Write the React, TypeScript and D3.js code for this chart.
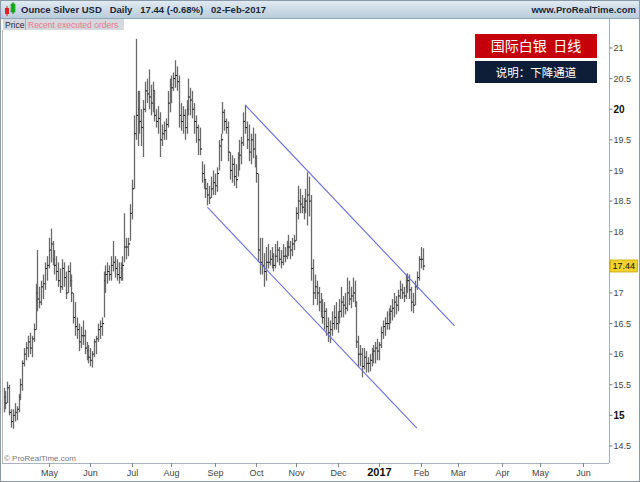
import React, { useEffect, useRef } from 'react';
import * as d3 from 'd3';

// Daily bars, one per weekday, starting 29-Mar-2016 and ending 02-Feb-2017
const firstDay = '2016-03-29';
const lastAxisDay = '2017-06-30';

const highs = [
  15.45, 15.4, 15.55, 15.5, 15.1, 15.1, 15.2, 15.15, 15.35, 15.6, 15.9, 16.1, 16.2, 16.3, 16.35, 16.3, 16.5, 17.15, 17.7, 17.1,
  17.2, 17.3, 17.5, 17.6, 17.9, 18.05, 17.85, 17.7, 17.6, 17.5, 17.4, 17.55, 17.5, 17.35, 17.45, 17.5, 17.3, 17.0, 16.85, 16.6,
  16.5, 16.45, 16.55, 16.4, 16.2, 16.15, 16.1, 16.05, 16.25, 16.3, 16.5, 16.55, 16.6, 17.35, 17.45, 17.5, 17.45, 17.6, 17.85, 17.6,
  17.55, 17.5, 17.5, 17.6, 18.3, 17.9, 17.9, 18.45, 18.85, 19.9, 21.15, 20.3, 20.3, 20.0, 20.15, 20.45, 20.5, 20.65, 20.4, 20.45,
  20.3, 20.0, 20.05, 19.95, 19.75, 19.8, 19.85, 20.3, 20.5, 20.55, 20.6, 20.8, 20.7, 20.55, 20.1, 20.05, 20.0, 20.15, 20.5, 20.35,
  20.3, 20.1, 19.9, 19.75, 19.7, 19.15, 19.1, 18.85, 18.8, 18.75, 18.9, 19.0, 18.95, 19.05, 19.5, 19.6, 20.12, 20.0, 19.85, 19.8,
  19.3, 19.25, 19.2, 19.1, 19.3, 19.5, 19.55, 19.95, 20.07, 19.8, 19.75, 19.6, 19.7, 19.6, 19.25, 18.95, 17.9, 17.9, 17.65, 17.75,
  17.8, 17.7, 17.75, 17.65, 17.8, 17.85, 17.75, 17.7, 17.8, 17.75, 17.85, 17.95, 17.85, 17.9, 17.95, 18.4, 18.75, 18.7, 18.6, 18.55,
  18.7, 18.97, 18.9, 18.6, 17.55, 17.3, 17.2, 17.1, 17.0, 16.9, 16.85, 16.75, 16.6, 16.55, 16.7, 16.8, 16.85, 16.7, 16.9, 17.1,
  16.95, 17.0, 17.25, 17.2, 17.1, 17.25, 17.2, 16.85, 16.3, 16.15, 16.1, 16.1, 16.05, 15.95, 16.0, 16.1, 16.15, 16.2, 16.25, 16.2,
  16.45, 16.55, 16.6, 16.7, 16.75, 16.8, 16.9, 17.0, 16.95, 17.05, 17.2, 17.15, 17.1, 17.3, 17.32, 17.3, 17.1, 17.0, 17.2, 17.35,
  17.6, 17.75, 17.73
];

const lows = [
  15.05, 15.1, 15.2, 15.0, 14.8, 14.78, 14.9, 14.92, 15.05, 15.25, 15.4, 15.8, 15.9, 15.95, 16.0, 15.95, 16.2, 16.4, 16.7, 16.75,
  16.8, 16.9, 17.05, 17.2, 17.4, 17.5, 17.45, 17.3, 17.2, 17.1, 17.0, 17.05, 17.1, 16.9, 17.0, 17.1, 16.85, 16.5, 16.3, 16.25,
  16.05, 16.1, 16.15, 16.0, 15.9, 15.85, 15.8, 15.78, 15.95, 16.0, 16.2, 16.25, 16.3, 16.6, 17.0, 17.15, 17.2, 17.2, 17.35, 17.25,
  17.2, 17.15, 17.2, 17.2, 17.5, 17.55, 17.6, 17.85, 18.2, 18.7, 19.5, 19.4, 19.6, 19.4, 19.22, 19.95, 20.1, 20.0, 19.9, 19.95,
  19.8, 19.7, 19.6, 19.22, 19.4, 19.5, 19.5, 19.7, 19.95, 20.1, 20.3, 20.35, 20.3, 19.7, 19.65, 19.6, 19.5, 19.6, 19.9, 19.9,
  19.85, 19.6, 19.45, 19.25, 19.25, 18.8, 18.7, 18.55, 18.43, 18.45, 18.55, 18.6, 18.6, 18.65, 19.0, 19.15, 19.6, 19.65, 19.6, 19.15,
  18.85, 18.8, 18.75, 18.71, 18.9, 19.0, 19.1, 19.4, 19.6, 19.35, 19.15, 19.1, 19.2, 19.05, 18.8, 17.5, 17.3, 17.3, 17.1, 17.2,
  17.4, 17.45, 17.4, 17.35, 17.4, 17.5, 17.45, 17.4, 17.45, 17.5, 17.55, 17.6, 17.55, 17.6, 17.7, 17.85, 18.2, 18.3, 18.3, 18.2,
  18.3, 18.1, 18.25, 17.2, 16.8, 16.9, 16.8, 16.7, 16.6, 16.5, 16.4, 16.3, 16.2, 16.18, 16.3, 16.4, 16.4, 16.35, 16.5, 16.6,
  16.6, 16.65, 16.7, 16.8, 16.75, 16.85, 16.77, 16.1, 15.8, 15.8, 15.62, 15.75, 15.7, 15.7, 15.72, 15.8, 15.85, 15.85, 15.9, 15.9,
  16.1, 16.25, 16.3, 16.4, 16.4, 16.5, 16.55, 16.6, 16.65, 16.7, 16.9, 16.9, 16.85, 16.9, 17.0, 16.9, 16.7, 16.67, 16.8, 17.05,
  17.2, 17.4, 17.37
];

const closes = [
  15.3, 15.2, 15.45, 15.05, 14.9, 15.0, 15.05, 15.1, 15.3, 15.5, 15.85, 16.0, 16.1, 16.2, 16.1, 16.25, 16.4, 17.0, 16.9, 16.85,
  17.1, 17.15, 17.4, 17.45, 17.7, 17.8, 17.55, 17.45, 17.35, 17.2, 17.1, 17.4, 17.25, 17.0, 17.35, 17.2, 17.0, 16.6, 16.45, 16.4,
  16.2, 16.3, 16.3, 16.1, 16.05, 15.95, 15.9, 16.0, 16.2, 16.25, 16.4, 16.45, 16.5, 17.2, 17.3, 17.35, 17.3, 17.45, 17.5, 17.4,
  17.3, 17.25, 17.4, 17.45, 17.75, 17.75, 17.8, 18.3, 18.7, 19.6, 19.9, 20.0, 19.8, 19.7, 20.0, 20.3, 20.25, 20.2, 20.1, 20.3,
  19.9, 19.8, 19.85, 19.5, 19.6, 19.65, 19.75, 20.1, 20.4, 20.35, 20.5, 20.55, 20.45, 19.9, 19.8, 19.9, 19.7, 20.0, 20.2, 20.15,
  20.0, 19.8, 19.7, 19.5, 19.35, 18.95, 18.85, 18.7, 18.6, 18.55, 18.7, 18.8, 18.75, 18.95, 19.4, 19.5, 19.95, 19.8, 19.7, 19.3,
  19.0, 19.1, 18.9, 18.85, 19.2, 19.25, 19.45, 19.8, 19.7, 19.5, 19.3, 19.5, 19.35, 19.2, 18.95, 17.7, 17.5, 17.45, 17.35, 17.5,
  17.5, 17.55, 17.6, 17.45, 17.6, 17.7, 17.55, 17.5, 17.6, 17.6, 17.75, 17.75, 17.7, 17.8, 17.85, 18.3, 18.5, 18.45, 18.4, 18.35,
  18.5, 18.6, 18.5, 17.4, 17.0, 17.1, 17.0, 16.85, 16.7, 16.6, 16.7, 16.45, 16.35, 16.4, 16.5, 16.6, 16.5, 16.6, 16.7, 16.85,
  16.8, 16.75, 17.0, 16.9, 16.95, 17.0, 16.85, 16.2, 16.0, 16.0, 15.8, 15.95, 15.85, 15.85, 15.9, 16.0, 16.05, 16.1, 16.05, 16.15,
  16.35, 16.45, 16.5, 16.5, 16.65, 16.7, 16.75, 16.85, 16.8, 16.95, 17.05, 17.0, 16.95, 17.1, 17.2, 17.05, 16.85, 16.8, 17.1, 17.25,
  17.55, 17.55, 17.44
];

const priceTicks = [14.5, 15, 15.5, 16, 16.5, 17, 17.5, 18, 18.5, 19, 19.5, 20, 20.5, 21];
const boldPriceTicks = [15, 20];
const monthStarts = ['2016-05', '2016-06', '2016-07', '2016-08', '2016-09', '2016-10', '2016-11', '2016-12',
  '2017-01', '2017-02', '2017-03', '2017-04', '2017-05', '2017-06'];
const monthLabels = ['May', 'Jun', 'Jul', 'Aug', 'Sep', 'Oct', 'Nov', 'Dec', '2017', 'Feb', 'Mar', 'Apr', 'May', 'Jun'];

// trend channel, drawn by hand on the chart
const upperChannel: [string, number][] = [['2016-09-23', 20.07], ['2017-02-27', 16.46]];
const lowerChannel: [string, number][] = [['2016-08-26', 18.40], ['2017-01-30', 14.79]];

const lastPrice = 17.44;
const headerText = 'Ounce Silver USD   Daily   17.44 (-0.68%)   02-Feb-2017';
const titleText = '国际白银  日线';
const noteText = '说明：下降通道';

const W = 640;
const H = 482;

export default function App() {
  const svgRef = useRef<SVGSVGElement>(null);

  useEffect(() => {
    const svg = d3.select(svgRef.current);
    svg.selectAll('*').remove();

    // weekday calendar for the x axis
    const days: string[] = [];
    const end = new Date(lastAxisDay + 'T00:00:00Z');
    for (let d = new Date(firstDay + 'T00:00:00Z'); d <= end; d.setUTCDate(d.getUTCDate() + 1)) {
      const wd = d.getUTCDay();
      if (wd !== 0 && wd !== 6) days.push(d.toISOString().slice(0, 10));
    }
    const dayIndex = (s: string) => days.indexOf(s);

    const plot = { left: 2, right: 609, top: 19, bottom: 463 };

    const x = d3.scaleLinear().domain([0, closes.length - 1]).range([3.5, 422.5]);
    const y = d3.scaleLinear().domain([14.5, 21]).range([446, 48]);

    const font = 'Arial, "Liberation Sans", sans-serif';

    svg.append('rect').attr('width', W).attr('height', H).attr('fill', '#fff');

    // header band
    const defs = svg.append('defs');
    const grad = defs.append('linearGradient').attr('id', 'hdr').attr('x1', 0).attr('y1', 0).attr('x2', 0).attr('y2', 1);
    grad.append('stop').attr('offset', '0%').attr('stop-color', '#e3ecf3');
    grad.append('stop').attr('offset', '100%').attr('stop-color', '#b9ccdb');
    svg.append('rect').attr('x', 0).attr('y', 0).attr('width', W).attr('height', 18).attr('fill', 'url(#hdr)');
    svg.append('line').attr('x1', 0).attr('x2', W).attr('y1', 18.5).attr('y2', 18.5).attr('stroke', '#8fa6b8');

    // small candle icon
    svg.append('rect').attr('x', 5).attr('y', 8).attr('width', 4).attr('height', 6).attr('fill', '#e02020');
    svg.append('line').attr('x1', 7).attr('x2', 7).attr('y1', 6).attr('y2', 16).attr('stroke', '#e02020');
    svg.append('rect').attr('x', 11).attr('y', 4).attr('width', 4).attr('height', 8).attr('fill', '#22c022').attr('stroke', '#118811').attr('stroke-width', 0.6);
    svg.append('line').attr('x1', 13).attr('x2', 13).attr('y1', 2).attr('y2', 14).attr('stroke', '#118811');

    svg.append('text').attr('x', 21).attr('y', 13).attr('font-family', font).attr('font-size', 9.5)
      .attr('font-weight', 'bold').attr('fill', '#1b2838')
      .style('white-space', 'pre').text(headerText);
    svg.append('text').attr('x', 636).attr('y', 13).attr('text-anchor', 'end').attr('font-family', font)
      .attr('font-size', 9.5).attr('font-weight', 'bold').attr('fill', '#1b2838').text('www.ProRealTime.com');

    // tabs
    svg.append('rect').attr('x', 3).attr('y', 19).attr('width', 121).attr('height', 11).attr('fill', '#d5d9dd');
    svg.append('text').attr('x', 5).attr('y', 27.5).attr('font-family', font).attr('font-size', 8.5)
      .attr('fill', '#1b2838').text('Price');
    svg.append('line').attr('x1', 25.5).attr('x2', 25.5).attr('y1', 19).attr('y2', 30).attr('stroke', '#aab');
    svg.append('text').attr('x', 28).attr('y', 27.5).attr('font-family', font).attr('font-size', 8.5)
      .attr('fill', '#e8788a').text('Recent executed orders');

    // frame lines
    svg.append('line').attr('x1', plot.left + 0.5).attr('x2', plot.left + 0.5)
      .attr('y1', 30).attr('y2', plot.bottom).attr('stroke', '#b8b8b8');
    svg.append('line').attr('x1', plot.left).attr('x2', plot.right)
      .attr('y1', plot.bottom + 0.5).attr('y2', plot.bottom + 0.5).attr('stroke', '#a8b4bf');
    svg.append('line').attr('x1', plot.right + 0.5).attr('x2', plot.right + 0.5)
      .attr('y1', 19).attr('y2', plot.bottom).attr('stroke', '#9fb3c3');
    svg.append('rect').attr('x', 0.5).attr('y', 0.5).attr('width', W - 1).attr('height', H - 1)
      .attr('fill', 'none').attr('stroke', '#8a9aa8');

    // bars
    const g = svg.append('g');
    closes.forEach((c, i) => {
      const px = Math.round(x(i)) + 0.5;
      g.append('line').attr('x1', px).attr('x2', px)
        .attr('y1', y(highs[i])).attr('y2', y(lows[i]))
        .attr('stroke', '#6a6a6a').attr('stroke-width', 1.3);
      g.append('line').attr('x1', px).attr('x2', px + 1.6)
        .attr('y1', y(c)).attr('y2', y(c))
        .attr('stroke', '#000').attr('stroke-width', 1);
    });

    // channel
    const chLine = d3.line<[string, number]>()
      .x(d => x(dayIndex(d[0])))
      .y(d => y(d[1]));
    [upperChannel, lowerChannel].forEach(ch => {
      svg.append('path').attr('d', chLine(ch)).attr('fill', 'none')
        .attr('stroke', '#6d6dd8').attr('stroke-width', 1.1);
    });

    // price axis
    const yAxis = svg.append('g').attr('transform', `translate(${plot.right + 0.5},0)`);
    priceTicks.forEach(t => {
      yAxis.append('line').attr('x1', 0).attr('x2', 3).attr('y1', y(t)).attr('y2', y(t)).attr('stroke', '#777');
      // the label under the last-price box is hidden
      if (Math.abs(y(t) - y(lastPrice)) < 10) return;
      const bold = boldPriceTicks.includes(t);
      yAxis.append('text').attr('x', 4).attr('y', y(t)).attr('dy', '0.35em')
        .attr('font-family', font).attr('font-size', bold ? 10 : 9)
        .attr('font-weight', bold ? 'bold' : 'normal').attr('fill', bold ? '#111' : '#444')
        .text(String(t));
    });
    yAxis.append('rect').attr('x', 1).attr('y', y(lastPrice) - 6).attr('width', 27).attr('height', 12)
      .attr('fill', '#f2d230').attr('stroke', '#c9a800').attr('stroke-width', 0.8);
    yAxis.append('text').attr('x', 3).attr('y', y(lastPrice)).attr('dy', '0.35em')
      .attr('font-family', font).attr('font-size', 9).attr('fill', '#111').text(lastPrice.toFixed(2));

    // time axis
    const xAxis = svg.append('g');
    monthStarts.forEach((m, k) => {
      const idx = days.findIndex(d => d.startsWith(m));
      const px = Math.round(x(idx)) + 0.5;
      xAxis.append('line').attr('x1', px).attr('x2', px).attr('y1', plot.bottom).attr('y2', plot.bottom + 4)
        .attr('stroke', '#888');
      const isYear = monthLabels[k] === '2017';
      xAxis.append('text').attr('x', px).attr('y', 476).attr('text-anchor', 'middle')
        .attr('font-family', font).attr('font-size', isYear ? 11 : 9)
        .attr('font-weight', isYear ? 'bold' : 'normal').attr('fill', isYear ? '#111' : '#444')
        .text(monthLabels[k]);
    });

    // watermark
    svg.append('text').attr('x', 4).attr('y', 461).attr('font-family', font).attr('font-size', 8)
      .attr('fill', '#777').text('© ProRealTime.com');

    // annotation boxes
    const cjk = '"Noto Sans CJK SC", sans-serif';
    svg.append('rect').attr('x', 475).attr('y', 34).attr('width', 122).attr('height', 24).attr('fill', '#c6000b');
    svg.append('text').attr('x', 536).attr('y', 51).attr('text-anchor', 'middle').attr('font-family', cjk)
      .attr('font-size', 14).attr('fill', '#fff').style('white-space', 'pre').text(titleText);
    svg.append('rect').attr('x', 475).attr('y', 61).attr('width', 122).attr('height', 22).attr('fill', '#0e1e38');
    svg.append('text').attr('x', 536).attr('y', 76.5).attr('text-anchor', 'middle').attr('font-family', cjk)
      .attr('font-size', 11.5).attr('fill', '#fff').text(noteText);
  }, []);

  return (
    <svg ref={svgRef} width={W} height={H} style={{ position: 'absolute', left: 0, top: 0 }} />
  );
}
